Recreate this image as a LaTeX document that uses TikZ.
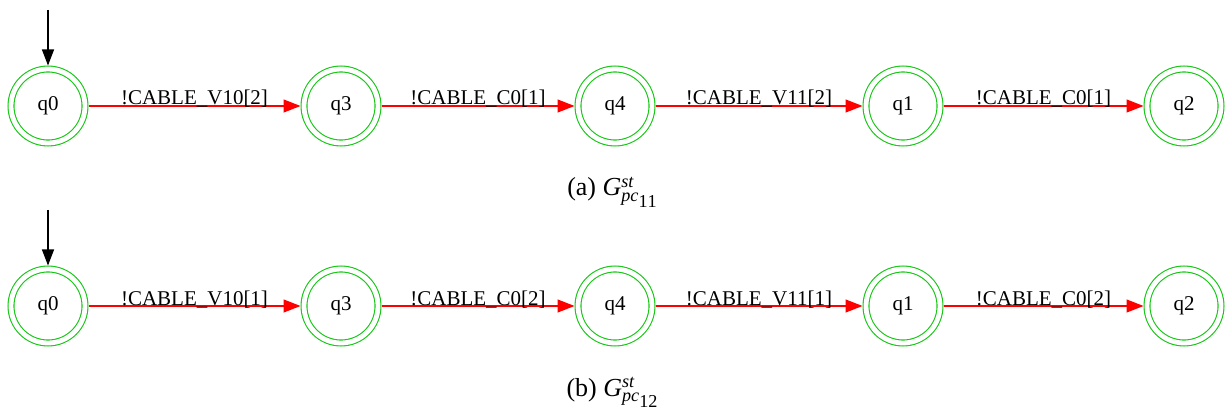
\documentclass[tikz,border=0pt]{standalone}
\usepackage{fontspec}
\setmainfont{Liberation Serif}
\usetikzlibrary{positioning,arrows.meta}
\definecolor{stategreen}{RGB}{20,200,20}

\begin{document}
\begin{tikzpicture}[x=0.5pt, y=-0.5pt, font=\fontsize{10.5}{12}\selectfont,
  state/.style={circle, draw=stategreen, double, double distance=2.4pt, line width=0.55pt,
                minimum size=37pt, inner sep=0pt, outer sep=1.75pt},
  trans/.style={draw=red, line width=0.6pt, -{Triangle[length=8.5pt, width=6.5pt]}},
  init/.style={line width=0.6pt, -{Triangle[length=8pt, width=6pt]}},
  lbl/.style={midway, anchor=base, inner sep=0pt, yshift=0.5pt},
  subcap/.style={font=\fontsize{13}{15}\selectfont, anchor=base}]
\useasboundingbox (0,0) rectangle (1225,411);

% (a) first automaton
\node[state] (a0) at (48,106) {q0};
\node[state, right=106pt of a0] (a3) {q3};
\node[state, right=96.5pt of a3] (a4) {q4};
\node[state, right=103.5pt of a4] (a1) {q1};
\node[state, right=100pt of a1] (a2) {q2};
\coordinate (ainit) at (48,10);
\draw[init] (ainit) -- (a0);
\draw[trans] (a0) -- node[lbl] {!CABLE\_V10[2]} (a3);
\draw[trans] (a3) -- node[lbl] {!CABLE\_C0[1]} (a4);
\draw[trans] (a4) -- node[lbl] {!CABLE\_V11[2]} (a1);
\draw[trans] (a1) -- node[lbl] {!CABLE\_C0[1]} (a2);
\node[subcap] (capa) at (613,196) {(a) $\mathit{G}^{\mathit{st}}_{\mathit{pc}_{\scriptstyle\mathrm{11}}}$};

% (b) second automaton
\node[state] (b0) at (48,306) {q0};
\node[state, right=106pt of b0] (b3) {q3};
\node[state, right=96.5pt of b3] (b4) {q4};
\node[state, right=103.5pt of b4] (b1) {q1};
\node[state, right=100pt of b1] (b2) {q2};
\coordinate (binit) at (48,210);
\draw[init] (binit) -- (b0);
\draw[trans] (b0) -- node[lbl] {!CABLE\_V10[1]} (b3);
\draw[trans] (b3) -- node[lbl] {!CABLE\_C0[2]} (b4);
\draw[trans] (b4) -- node[lbl] {!CABLE\_V11[1]} (b1);
\draw[trans] (b1) -- node[lbl] {!CABLE\_C0[2]} (b2);
\node[subcap] (capb) at (613,396) {(b) $\mathit{G}^{\mathit{st}}_{\mathit{pc}_{\scriptstyle\mathrm{12}}}$};
\end{tikzpicture}
\end{document}
